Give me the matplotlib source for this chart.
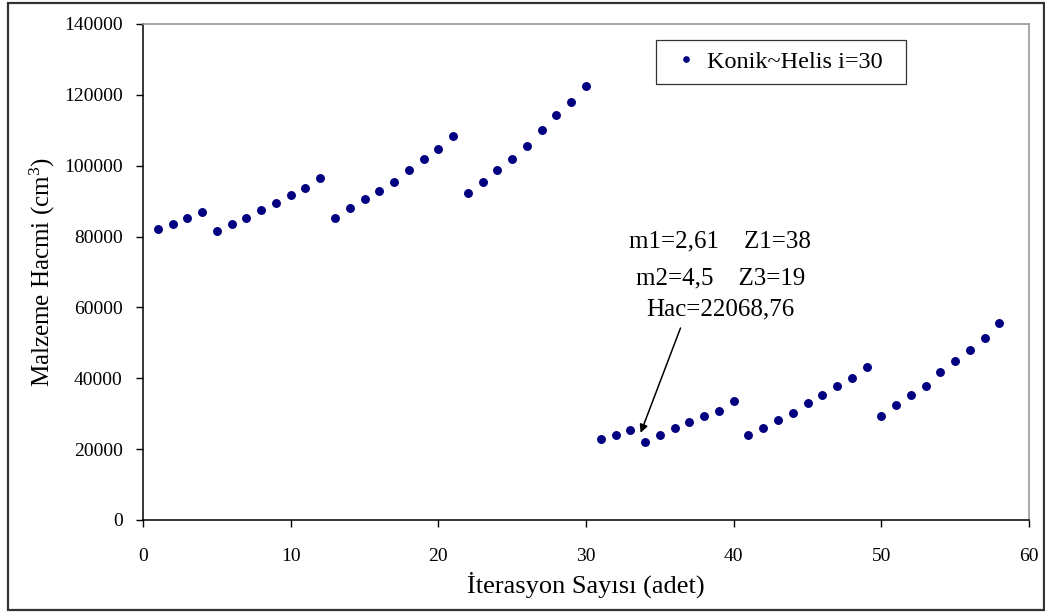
import matplotlib
matplotlib.use("Agg")
import matplotlib.pyplot as plt
from matplotlib.patches import Rectangle

plt.rcParams['font.family'] = ['Liberation Serif', 'DejaVu Serif']
plt.rcParams['mathtext.fontset'] = 'custom'
plt.rcParams['mathtext.rm'] = 'Liberation Serif'
plt.rcParams['mathtext.it'] = 'Liberation Serif:italic'

iterations = list(range(1, 59))
volumes = [
    82000, 83600, 85200, 86800, 81500, 83600, 85200, 87400, 89600, 91700,
    93800, 96500, 85200, 88000, 90600, 92800, 95400, 98700, 101900, 104600,
    108400, 92200, 95400, 98700, 101900, 105600, 110000, 114300, 118100, 122400,
    22800, 24000, 25500, 22068.76, 24000, 26100, 27700, 29300, 30800, 33600,
    23900, 26100, 28200, 30300, 33000, 35200, 37800, 40000, 43200, 29300,
    32500, 35200, 37800, 41700, 44900, 48100, 51300, 55600,
]
series_label = "Konik~Helis i=30"
x_ticks = [0, 10, 20, 30, 40, 50, 60]
y_ticks = [0, 20000, 40000, 60000, 80000, 100000, 120000, 140000]
note_lines = ["m1=2,61    Z1=38", "m2=4,5    Z3=19", "Hac=22068,76"]

fig = plt.figure(figsize=(10.45, 6.12), dpi=100)
ax = fig.add_axes([143/1045, 1 - 520/612, (1029-143)/1045, (520-24)/612])

ax.plot(iterations, volumes, linestyle='none', marker='o', markersize=5.4,
        color='#000080', label=series_label + "  ")

ax.set_xlim(0, 60)
ax.set_ylim(0, 140000)
ax.set_xticks(x_ticks)
ax.set_yticks(y_ticks)
ax.set_xticklabels([str(v) for v in x_ticks])
ax.set_yticklabels([str(v) for v in y_ticks])
ax.tick_params(axis='both', direction='out', length=5, width=1, labelsize=14,
               colors='black')
ax.tick_params(axis='x', pad=15)
ax.tick_params(axis='y', pad=9.5)

for side in ['left', 'bottom']:
    ax.spines[side].set_color('black')
    ax.spines[side].set_linewidth(1.1)
for side in ['top', 'right']:
    ax.spines[side].set_color('#999999')
    ax.spines[side].set_linewidth(1.2)

ax.set_xlabel("İterasyon Sayısı (adet)", fontsize=19)
ax.set_ylabel("Malzeme Hacmi (cm$^3$)", fontsize=18)
ax.xaxis.set_label_coords(0.5, -0.103)
ax.yaxis.set_label_coords(-0.097, 0.5)

leg = ax.legend(loc='upper left', bbox_to_anchor=((656-143)/886, 1 - (40-24)/496),
                frameon=True, fancybox=False, fontsize=17.5, handlelength=1.6,
                handletextpad=0.05, borderpad=0.45, markerscale=0.7,
                borderaxespad=0)
leg.get_frame().set_edgecolor('black')
leg.get_frame().set_linewidth(0.9)

for line, yv in zip(note_lines, [78500, 68300, 59300]):
    ax.text(39.1, yv, line, ha='center', va='center', fontsize=18)

ax.annotate("", xy=(33.7, 24600), xytext=(36.4, 54200),
            arrowprops=dict(arrowstyle='-|>', color='black', lw=1.1,
                            mutation_scale=12, shrinkA=0, shrinkB=0))

fig.patches.append(Rectangle((8/1045, 2/612), (1044-8)/1045, (609-2)/612,
                             transform=fig.transFigure, fill=False,
                             edgecolor='#333333', linewidth=1.6))

fig.savefig("out.png", dpi=100)
